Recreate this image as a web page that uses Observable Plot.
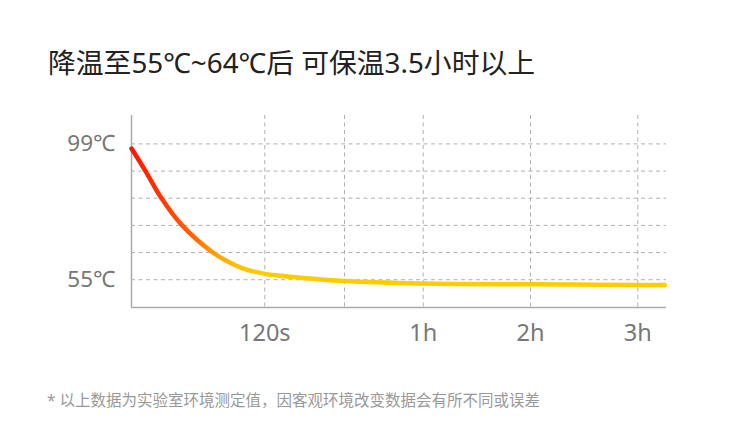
<!DOCTYPE html>
<html><head><meta charset="utf-8">
<script src="https://cdn.jsdelivr.net/npm/d3@7"></script>
<script src="https://cdn.jsdelivr.net/npm/@observablehq/plot@0.6"></script>
<style>
body{margin:0;background:#fff;width:750px;height:435px;overflow:hidden;position:relative;font-family:"Noto Sans","Noto Sans CJK SC",sans-serif;}
#title{position:absolute;left:48px;top:43px;font-size:27.8px;color:#222;line-height:38px;white-space:nowrap;}
#caption{position:absolute;left:47px;top:389px;font-size:15.5px;color:#999;line-height:22px;white-space:nowrap;}
#chart{position:absolute;left:0;top:0;}
</style></head><body>
<div id="chart"></div>
<div id="title">降温至55℃~64℃后 可保温3.5小时以上</div>
<div id="caption">* 以上数据为实验室环境测定值，因客观环境改变数据会有所不同或误差</div>
<script>
// Data
const timeSec = [0, 12.6, 27, 45.6, 73.2, 85, 100, 120, 300, 560, 1800, 3600, 7200, 10800, 11700];
const tempC   = [97.5, 90.2, 81.4, 72.6, 63.8, 61.2, 58.7, 56.9, 56.5, 56.1, 54.6, 53.8, 53.5, 53.3, 53.3];
const xTicks = [120, 1800, 3600, 7200, 10800];
const xTickLabels = ["120s", "", "1h", "2h", "3h"];
const yTicks = [55, 63.8, 72.6, 81.4, 90.2, 99];
const yTickLabels = ["55℃", "", "", "", "", "99℃"];

const data = timeSec.map((t, i) => ({t, temp: tempC[i]}));
const gridStyle = {stroke: "#b0b0b0", strokeOpacity: 1, strokeWidth: 1, strokeDasharray: "4,3.5"};

const plot = Plot.plot({
  width: 750, height: 435,
  marginLeft: 131, marginRight: 84, marginTop: 115, marginBottom: 128,
  x: {type: "linear", label: null, domain: [0, 120, 1800, 3600, 7200, 10800, 11760],
      range: [131, 264.3, 344, 422.7, 530, 637.3, 666]},
  y: {label: null, domain: [46, 108.2]},
  style: {background: "transparent", fontFamily: '"Noto Sans","Noto Sans CJK SC",sans-serif'},
  marks: [
    Plot.gridY(yTicks, gridStyle),
    Plot.gridX(xTicks, gridStyle),
    Plot.axisY(yTicks, {label: null, tickSize: 0, tickPadding: 16, fontSize: 22.5, fill: "#777",
      tickFormat: d => yTickLabels[yTicks.indexOf(d)]}),
    Plot.axisX(xTicks, {label: null, tickSize: 0, tickPadding: 17, fontSize: 23.5, fill: "#777",
      tickFormat: d => xTickLabels[xTicks.indexOf(d)]}),
    Plot.ruleX([0], {stroke: "#aaa", strokeWidth: 1.5}),
    Plot.ruleY([46], {stroke: "#aaa", strokeWidth: 1.5}),
    Plot.line(data, {x: "t", y: "temp", curve: "catmull-rom", stroke: "url(#heatGrad)",
      strokeWidth: 4.5, strokeLinecap: "round"})
  ]
});
const ns = "http://www.w3.org/2000/svg";
const defs = document.createElementNS(ns, "defs");
defs.innerHTML = `<linearGradient id="heatGrad" x1="0" y1="0" x2="1" y2="0">
  <stop offset="0" stop-color="#ff1500"/>
  <stop offset="0.05" stop-color="#ff3300"/>
  <stop offset="0.12" stop-color="#ff6a00"/>
  <stop offset="0.157" stop-color="#ffa000"/>
  <stop offset="0.2" stop-color="#ffc200"/>
  <stop offset="0.24" stop-color="#ffcc00"/>
  <stop offset="1" stop-color="#ffcc00"/>
</linearGradient>`;
plot.insertBefore(defs, plot.firstChild);
document.getElementById("chart").appendChild(plot);
</script>
</body></html>
